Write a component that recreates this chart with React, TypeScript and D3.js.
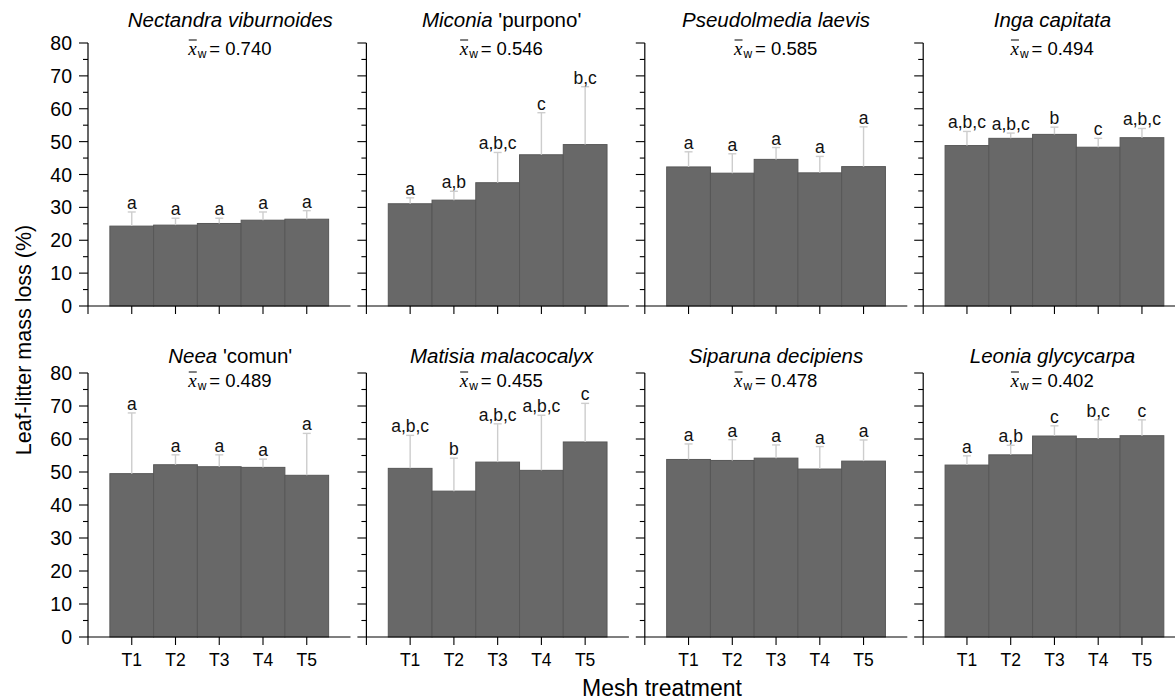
import React from "react";
import * as d3 from "d3";

// Species panels, left-to-right, top row then bottom row
const speciesItalic = [
  "Nectandra viburnoides",
  "Miconia",
  "Pseudolmedia laevis",
  "Inga capitata",
  "Neea",
  "Matisia malacocalyx",
  "Siparuna decipiens",
  "Leonia glycycarpa",
];
const speciesSuffix = ["", " 'purpono'", "", "", " 'comun'", "", "", ""];
const weightedMeans = ["0.740", "0.546", "0.585", "0.494", "0.489", "0.455", "0.478", "0.402"];

const treatments = ["T1", "T2", "T3", "T4", "T5"];
const yTicks = [0, 10, 20, 30, 40, 50, 60, 70, 80];

// Mean leaf-litter mass loss (%) per treatment
const means = [
  [24.3, 24.6, 25.1, 26.1, 26.4],
  [31.1, 32.2, 37.5, 46.0, 49.1],
  [42.3, 40.4, 44.6, 40.5, 42.4],
  [48.8, 51.0, 52.2, 48.3, 51.2],
  [49.5, 52.2, 51.6, 51.4, 49.0],
  [51.1, 44.2, 53.0, 50.5, 59.1],
  [53.8, 53.5, 54.2, 50.9, 53.3],
  [52.1, 55.2, 60.9, 60.1, 61.0],
];
// Upper error (one-sided)
const errors = [
  [4.3, 2.1, 1.6, 2.5, 2.6],
  [1.8, 2.7, 9.2, 12.8, 17.6],
  [4.6, 5.9, 3.6, 5.0, 12.1],
  [4.3, 1.6, 2.2, 2.7, 2.8],
  [18.4, 3.0, 3.6, 2.5, 12.7],
  [10.0, 10.0, 11.6, 16.7, 11.7],
  [4.7, 6.3, 4.0, 6.8, 6.4],
  [2.8, 2.9, 3.1, 5.7, 4.8],
];
// Post-hoc group letters
const groups = [
  ["a", "a", "a", "a", "a"],
  ["a", "a,b", "a,b,c", "c", "b,c"],
  ["a", "a", "a", "a", "a"],
  ["a,b,c", "a,b,c", "b", "c", "a,b,c"],
  ["a", "a", "a", "a", "a"],
  ["a,b,c", "b", "a,b,c", "a,b,c", "c"],
  ["a", "a", "a", "a", "a"],
  ["a", "a,b", "c", "b,c", "c"],
];

const W = 1175;
const H = 700;
const FONT = "'Liberation Sans', Arial, Helvetica, sans-serif";
const SERIF = "'Liberation Serif', 'DejaVu Serif', serif";

const panelLeft = (col: number) => 88 + col * 278.4;
const panelWidth = 262.5;
const rowBase = [306, 637];
const rowTop = [43, 373];
const titleShift = [11, 4, 0, -2];
const titleDy = [-16, -10];
const meanDy = [12, 14];

function Panel({ idx }: { idx: number }) {
  const row = Math.floor(idx / 4);
  const col = idx % 4;
  const x0 = panelLeft(col);
  const x = d3.scaleLinear().domain([-1, 5]).range([x0, x0 + panelWidth]);
  const y = d3.scaleLinear().domain([0, 80]).range([rowBase[row], rowTop[row]]);
  const minor = d3.range(5, 80, 10);
  const cx = x(2) + titleShift[col];
  const mStart = cx - 42;
  const mBase = y(80) + meanDy[row];

  return (
    <g>
      {/* bars */}
      {means[idx].map((v, i) => (
        <rect
          key={"b" + i}
          x={x(i - 0.5)}
          y={y(v)}
          width={x(i + 0.5) - x(i - 0.5)}
          height={y(0) - y(v)}
          fill="#686868"
          stroke="#575757"
          strokeWidth={1}
        />
      ))}
      {/* error bars */}
      {means[idx].map((v, i) => {
        const top = y(v + errors[idx][i]);
        return (
          <g key={"e" + i} stroke="#cdcdcd" strokeWidth={1.4}>
            <line x1={x(i)} x2={x(i)} y1={y(v)} y2={top} />
            <line x1={x(i) - 4} x2={x(i) + 4} y1={top} y2={top} />
          </g>
        );
      })}
      {/* group letters */}
      {groups[idx].map((g, i) => (
        <text
          key={"g" + i}
          x={x(i)}
          y={y(means[idx][i] + errors[idx][i]) - 3}
          textAnchor="middle"
          fontSize={17.5}
          fontFamily={FONT}
          fill="#111"
        >
          {g}
        </text>
      ))}
      {/* y axis */}
      <line x1={x0} x2={x0} y1={y(0)} y2={y(80)} stroke="#000" strokeWidth={1.2} />
      {yTicks.map((t) => (
        <line key={"yt" + t} x1={x0 - 9} x2={x0} y1={y(t)} y2={y(t)} stroke="#000" strokeWidth={1.1} />
      ))}
      {minor.map((t) => (
        <line key={"ym" + t} x1={x0 - 5} x2={x0} y1={y(t)} y2={y(t)} stroke="#000" strokeWidth={1.1} />
      ))}
      {col === 0 &&
        yTicks.map((t) => (
          <text
            key={"yl" + t}
            x={x0 - 16}
            y={y(t) + 7}
            textAnchor="end"
            fontSize={19.5}
            fontFamily={FONT}
            fill="#000"
          >
            {t}
          </text>
        ))}
      {/* x axis */}
      <line x1={x0} x2={x0 + panelWidth} y1={y(0)} y2={y(0)} stroke="#000" strokeWidth={1.2} />
      {[-1, 0, 1, 2, 3, 4].map((t) => (
        <line key={"xt" + t} x1={x(t)} x2={x(t)} y1={y(0)} y2={y(0) + 8} stroke="#000" strokeWidth={1.1} />
      ))}
      {row === 1 &&
        treatments.map((t, i) => (
          <text
            key={"xl" + i}
            x={x(i)}
            y={y(0) + 29}
            textAnchor="middle"
            fontSize={17.5}
            fontFamily={FONT}
            fill="#000"
          >
            {t}
          </text>
        ))}
      {/* title */}
      <text x={cx} y={y(80) + titleDy[row]} textAnchor="middle" fontSize={20.5} fontFamily={FONT} fill="#000">
        <tspan fontStyle="italic">{speciesItalic[idx]}</tspan>
        {speciesSuffix[idx] && <tspan>{speciesSuffix[idx]}</tspan>}
      </text>
      {/* weighted mean */}
      <text x={mStart} y={mBase} fontSize={19} fontFamily={SERIF} fontStyle="italic" fill="#000">
        x
      </text>
      <line x1={mStart + 0.5} x2={mStart + 8.5} y1={mBase - 15} y2={mBase - 15} stroke="#000" strokeWidth={1} />
      <text x={mStart + 9.5} y={mBase + 3} fontSize={12} fontFamily={FONT} fill="#000">
        w
      </text>
      <text x={mStart + 21} y={mBase} fontSize={18.5} fontFamily={FONT} fill="#000">
        {"= " + weightedMeans[idx]}
      </text>
    </g>
  );
}

export default function App() {
  return (
    <svg
      width={W}
      height={H}
      viewBox={`0 0 ${W} ${H}`}
      style={{ position: "fixed", left: 0, top: 0, background: "#fff" }}
    >
      <rect width={W} height={H} fill="#fff" />
      {d3.range(8).map((i) => (
        <Panel key={i} idx={i} />
      ))}
      <text
        transform="translate(31,340) rotate(-90)"
        textAnchor="middle"
        fontSize={21.5}
        fontFamily={FONT}
        fill="#000"
      >
        Leaf-litter mass loss (%)
      </text>
      <text x={662} y={696} textAnchor="middle" fontSize={23} fontFamily={FONT} fill="#000">
        Mesh treatment
      </text>
    </svg>
  );
}
